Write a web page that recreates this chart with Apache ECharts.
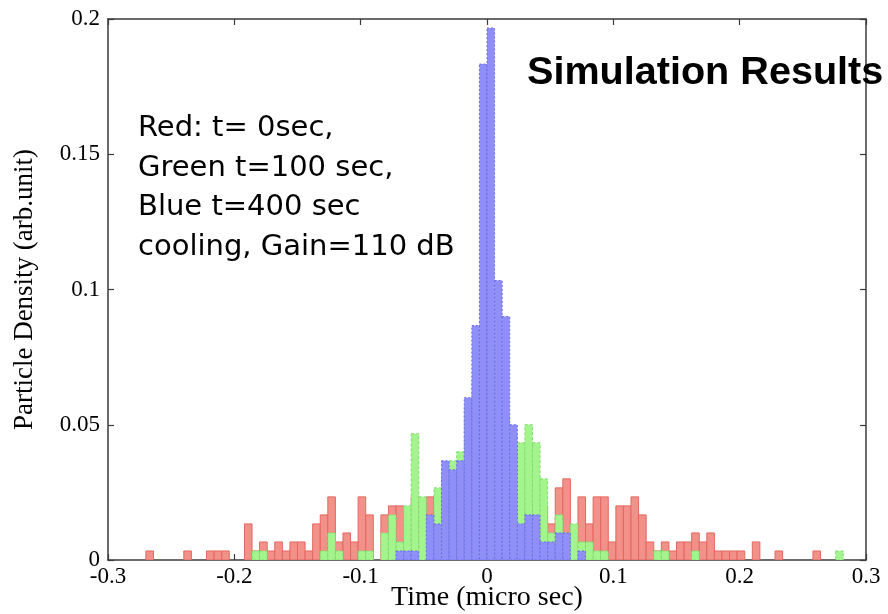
<!DOCTYPE html>
<html>
<head>
<meta charset="utf-8">
<script src="https://cdn.jsdelivr.net/npm/echarts@6/dist/echarts.min.js"></script>
<style>
  html, body { margin: 0; padding: 0; background: #fff; }
  #chart { width: 888px; height: 614px; }
</style>
</head>
<body>
<div id="chart"></div>
<script>
// Histogram binning: 100 bins of 0.006 micro sec starting at -0.3
const binStart = -0.3;
const binWidth = 0.006;
const particleTotal = 300;

// Particle counts per bin (bin 0 .. 99)
const redCounts = [
  0,0,0,0,0,1,0,0,0,0,
  1,0,0,1,1,1,0,0,4,1,
  2,1,2,1,2,2,1,4,5,7,
  2,3,2,7,5,0,5,6,6,5,
  7,6,7,7,6,8,7,7,7,8,
  7,6,8,7,6,6,5,6,4,8,
  9,3,7,4,7,7,2,6,6,7,
  5,2,1,2,1,2,2,3,2,3,
  1,1,1,1,0,2,0,0,1,0,
  0,0,0,1,0,0,0,0,0,0
];
const greenCounts = [
  0,0,0,0,0,0,0,0,0,0,
  0,0,0,0,0,0,0,0,0,1,
  1,0,0,0,0,0,0,0,1,3,
  1,0,0,1,1,0,3,5,2,6,
  14,7,4,8,10,11,12,17,20,25,
  24,18,16,14,13,15,13,9,3,5,
  3,4,2,2,1,1,0,0,0,0,
  0,0,1,1,0,0,0,1,0,0,
  0,0,0,0,0,0,0,0,0,0,
  0,0,0,0,0,0,1,0,0,0
];
const blueCounts = [
  0,0,0,0,0,0,0,0,0,0,
  0,0,0,0,0,0,0,0,0,0,
  0,0,0,0,0,0,0,0,0,0,
  0,0,0,0,0,0,0,0,1,1,
  1,0,5,4,11,10,11,18,26,55,
  59,31,27,15,4,5,5,2,2,3,
  3,0,1,0,0,0,0,0,0,0,
  0,0,0,0,0,0,0,0,0,0,
  0,0,0,0,0,0,0,0,0,0,
  0,0,0,0,0,0,0,0,0,0
];

const xTicks = { min: -0.3, max: 0.3, step: 0.1 };
const yTicks = { min: 0, max: 0.2, step: 0.05 };

const noteLines = [
  'Red: t= 0sec,',
  'Green t=100 sec,',
  'Blue t=400 sec',
  'cooling, Gain=110 dB'
];
const titleText = 'Simulation Results';

function toBins(counts) {
  const out = [];
  counts.forEach(function (c, i) {
    if (c > 0) {
      const lo = +(binStart + i * binWidth).toFixed(4);
      const hi = +(binStart + (i + 1) * binWidth).toFixed(4);
      out.push([lo, hi, c / particleTotal]);
    }
  });
  return out;
}

function histSeries(name, counts, fill, stroke, dash, z) {
  return {
    type: 'custom',
    name: name,
    z: z,
    clip: true,
    data: toBins(counts),
    encode: { x: [0, 1], y: 2 },
    renderItem: function (params, api) {
      const topLeft = api.coord([api.value(0), api.value(2)]);
      const bottomRight = api.coord([api.value(1), 0]);
      return {
        type: 'rect',
        shape: {
          x: topLeft[0],
          y: topLeft[1],
          width: bottomRight[0] - topLeft[0],
          height: bottomRight[1] - topLeft[1]
        },
        style: { fill: fill, stroke: stroke, lineWidth: 1, lineDash: dash }
      };
    }
  };
}

const serif = '"Liberation Serif", "Times New Roman", serif';
const axisLine = { show: true, onZero: false, lineStyle: { color: '#3a3a3a', width: 1.5 } };
const tickIn = { show: true, inside: true, length: 6, lineStyle: { color: '#3a3a3a', width: 1.2 } };

function fmt(v) {
  const r = Math.round(v * 1000) / 1000;
  return String(r);
}

const chart = echarts.init(document.getElementById('chart'), null, { renderer: 'canvas' });
chart.setOption({
  animation: false,
  backgroundColor: '#ffffff',
  grid: { left: 108, right: 22, top: 19, bottom: 54, containLabel: false, outerBoundsMode: 'none' },
  xAxis: [
    {
      type: 'value', position: 'bottom',
      min: xTicks.min, max: xTicks.max, interval: xTicks.step,
      axisLine: axisLine, axisTick: tickIn, splitLine: { show: false },
      axisLabel: { color: '#000', fontFamily: serif, fontSize: 23, margin: 5, formatter: fmt },
      name: 'Time (micro sec)', nameLocation: 'middle', nameGap: 24, nameMoveOverlap: false,
      nameTextStyle: { color: '#000', fontFamily: serif, fontSize: 28, verticalAlign: 'top' }
    },
    {
      type: 'value', position: 'top',
      min: xTicks.min, max: xTicks.max, interval: xTicks.step,
      axisLine: axisLine, axisTick: tickIn, axisLabel: { show: false }, splitLine: { show: false }
    }
  ],
  yAxis: [
    {
      type: 'value', position: 'left',
      min: yTicks.min, max: yTicks.max, interval: yTicks.step,
      axisLine: axisLine, axisTick: tickIn, splitLine: { show: false },
      axisLabel: { color: '#000', fontFamily: serif, fontSize: 23, margin: 8, formatter: fmt },
      name: 'Particle Density (arb.unit)', nameLocation: 'middle', nameGap: 70, nameMoveOverlap: false,
      nameTextStyle: { color: '#000', fontFamily: serif, fontSize: 27 }
    },
    {
      type: 'value', position: 'right',
      min: yTicks.min, max: yTicks.max, interval: yTicks.step,
      axisLine: axisLine, axisTick: tickIn, axisLabel: { show: false }, splitLine: { show: false }
    }
  ],
  series: [
    histSeries('t = 0 sec', redCounts, '#f2918a', '#e4675f', null, 2),
    histSeries('t = 100 sec', greenCounts, '#a4f48e', '#7fdc6c', [3, 2], 3),
    histSeries('t = 400 sec', blueCounts, '#8f8ff7', '#6a6aea', [2, 2], 4)
  ],
  graphic: [
    {
      type: 'text', left: 138, top: 109, z: 20,
      style: {
        text: noteLines.join('\n'),
        font: '29px "DejaVu Sans", sans-serif',
        lineHeight: 39.5,
        fill: '#000'
      }
    },
    {
      type: 'text', left: 527, top: 53, z: 20,
      style: {
        text: titleText,
        font: 'bold 39.6px "Liberation Sans", Arial, sans-serif',
        fill: '#000'
      }
    }
  ]
});
</script>
</body>
</html>
